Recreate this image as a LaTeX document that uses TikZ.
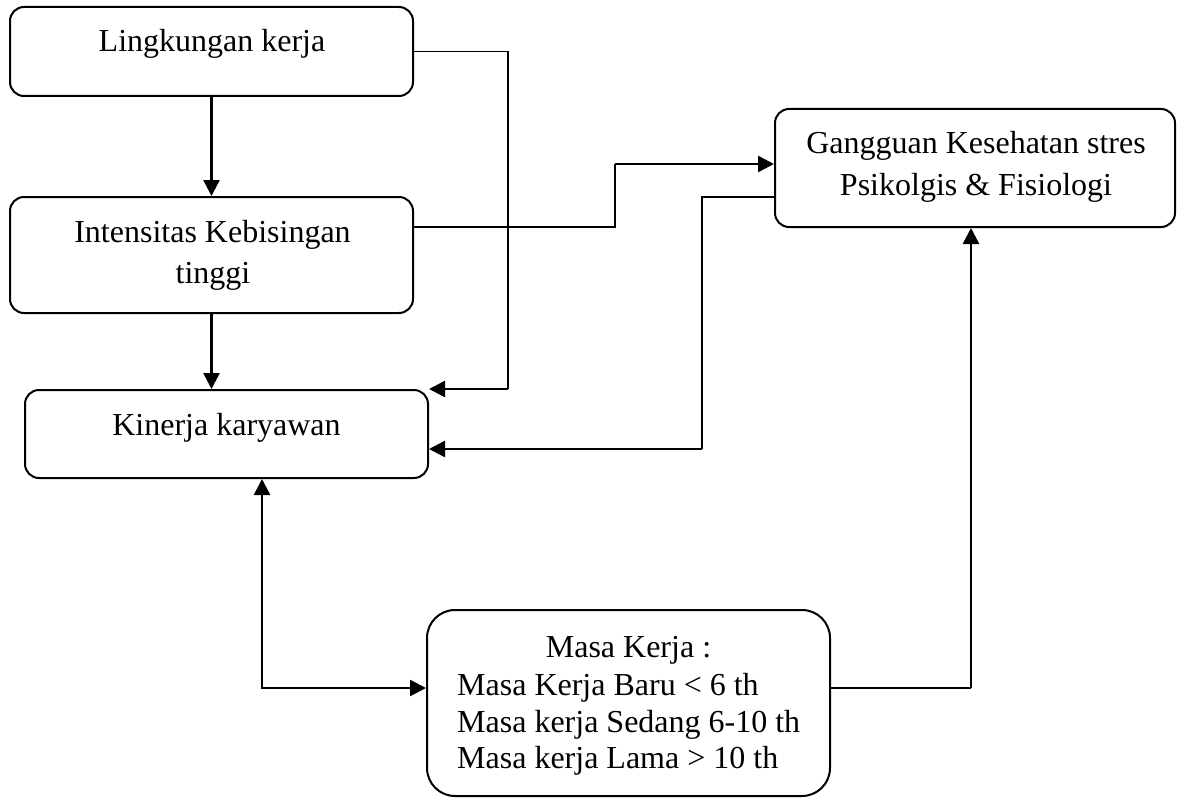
\documentclass[tikz,border=0pt]{standalone}
\usepackage{fontspec}
\setmainfont{Liberation Serif}
\usetikzlibrary{arrows.meta}
\begin{document}
\begin{tikzpicture}[x=1pt,y=-1pt,
  box/.style={draw, line width=2pt, rounded corners=14pt, inner sep=0pt, minimum width=403pt},
  txt/.style={font=\fontsize{32pt}{37pt}\selectfont, inner sep=0pt, anchor=base},
  thinline/.style={line width=1.5pt},
  arrowline/.style={line width=2.5pt, -{Triangle[length=16pt,width=16pt]}},
  bothline/.style={line width=2.5pt, {Triangle[length=16pt,width=16pt]}-{Triangle[length=16pt,width=16pt]}}]
\useasboundingbox (0,0) rectangle (1187,800);
% boxes
\node[box, minimum height=89pt] (b1) at (211.5,51.5) {};
\node[box, minimum height=116pt] (b2) at (211.5,255) {};
\node[box, minimum height=88pt] (b3) at (226.5,434) {};
\node[box, minimum width=400pt, minimum height=118pt] (b4) at (975,168) {};
\node[box, rounded corners=28pt, minimum height=186pt] (b5) at (628.5,703) {};
% texts
\node[txt] (t1) at (212,52) {Lingkungan kerja};
\node[txt] (t2a) at (212.5,242) {Intensitas Kebisingan};
\node[txt] (t2b) at (213,283) {tinggi};
\node[txt] (t3) at (226.5,435) {Kinerja karyawan};
\node[txt] (t4a) at (976,153) {Gangguan Kesehatan stres};
\node[txt] (t4b) at (976,195) {Psikolgis \& Fisiologi};
\node[txt] (t5a) at (628.5,657) {Masa Kerja :};
\node[txt, anchor=base west] (t5b) at (457,695) {Masa Kerja Baru < 6 th};
\node[txt, anchor=base west] (t5c) at (457,732) {Masa kerja Sedang 6-10 th};
\node[txt, anchor=base west] (t5d) at (457,768) {Masa kerja Lama > 10 th};
% bend points
\coordinate (k1) at (508,51.5);
\coordinate (k2) at (615,227);
\coordinate (k3) at (615,164);
\coordinate (k4) at (702,197);
\coordinate (k5) at (702,449);
\coordinate (k6) at (262,688);
\coordinate (k7) at (971,688);
% connectors
\draw[arrowline] (b1.south) -- (b2.north);
\draw[arrowline] (b2.south) -- (b2.south |- b3.north);
\draw[thinline] (b1.east |- k1) -- (k1) -- (k1 |- b3.north east);
\draw[arrowline] (k1 |- b3.north east) -- (b3.north east);
\draw[thinline] (b2.east |- k2) -- (k2) -- (k3);
\draw[arrowline] (k3) -- (k3 -| b4.west);
\draw[thinline] (k4 -| b4.west) -- (k4) -- (k5);
\draw[arrowline] (k5) -- (k5 -| b3.east);
\draw[bothline] (b3.south -| k6) -- (k6) -- (k6 -| b5.west);
\draw[thinline] (k7 -| b5.east) -- (k7);
\draw[arrowline] (k7) -- (k7 |- b4.south);
\end{tikzpicture}
\end{document}
